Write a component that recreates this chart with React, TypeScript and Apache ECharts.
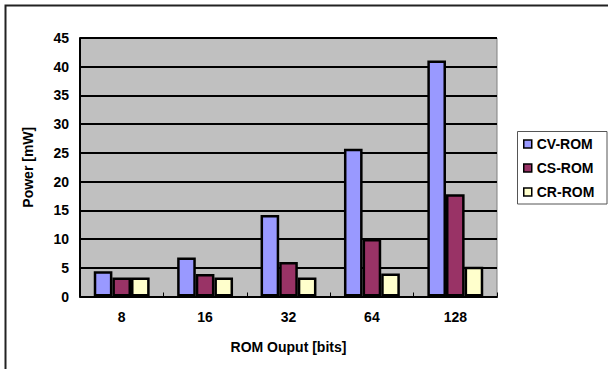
import React, { useEffect, useRef } from "react";
import * as echarts from "echarts";

const categories = ["8", "16", "32", "64", "128"];
const cvRom = [4.4, 6.8, 14.2, 25.7, 41.1];
const csRom = [3.3, 3.9, 6.0, 10.0, 17.8];
const crRom = [3.3, 3.3, 3.3, 4.0, 5.2];
const seriesNames = ["CV-ROM", "CS-ROM", "CR-ROM"];
const seriesColors = ["#9999ff", "#993366", "#ffffcc"];

const FONT = "'Liberation Sans', Arial, sans-serif";

export default function App() {
  const ref = useRef<HTMLDivElement>(null);
  useEffect(() => {
    if (!ref.current) return;
    const chart = echarts.init(ref.current, null, { renderer: "svg" });
    const data = [cvRom, csRom, crRom];
    chart.setOption({
      animation: false,
      backgroundColor: "#ffffff",
      textStyle: { fontFamily: FONT },
      grid: {
        left: 80,
        right: 111,
        top: 38,
        bottom: 72.5,
        show: true,
        backgroundColor: "#c0c0c0",
        borderColor: "#808080",
        borderWidth: 1,
        outerBoundsMode: "none",
      },
      xAxis: {
        type: "category",
        data: categories,
        name: "ROM Ouput [bits]",
        nameLocation: "middle",
        nameGap: 43,
        nameTextStyle: { fontSize: 14, fontWeight: "bold", color: "#000", fontFamily: FONT },
        axisLine: { show: true, lineStyle: { color: "#000", width: 2 } },
        axisTick: { show: true, inside: true, length: 4, lineStyle: { color: "#000", width: 1 } },
        axisLabel: { color: "#000", fontSize: 14, fontWeight: "bold", margin: 13, fontFamily: FONT },
        splitLine: { show: false },
      },
      yAxis: {
        type: "value",
        min: 0,
        max: 45,
        interval: 5,
        name: "Power [mW]",
        nameLocation: "middle",
        nameGap: 45,
        nameRotate: 90,
        nameTextStyle: { fontSize: 14, fontWeight: "bold", color: "#000", fontFamily: FONT },
        axisLine: { show: true, lineStyle: { color: "#000", width: 2 } },
        axisTick: { show: false },
        axisLabel: { color: "#000", fontSize: 14, fontWeight: "bold", margin: 11, fontFamily: FONT },
        splitLine: { show: true, lineStyle: { color: "#000", width: 2 } },
      },
      legend: {
        orient: "vertical",
        left: 518,
        top: 131,
        padding: [6, 5, 5, 5],
        itemWidth: 8,
        itemHeight: 8,
        itemGap: 10,
        icon: "rect",
        data: seriesNames,
        textStyle: { fontSize: 14, fontWeight: "bold", color: "#000", fontFamily: FONT, padding: [0, 0, 0, 0] },
        itemStyle: { borderColor: "#000", borderWidth: 1.5 },
      },
      graphic: [
        {
          type: "rect",
          shape: { x: 5.5, y: 5.5, width: 640, height: 400 },
          style: { fill: "none", stroke: "#222", lineWidth: 2 },
          silent: true,
        },
        {
          type: "rect",
          shape: { x: 517.5, y: 131.5, width: 89.5, height: 72.5 },
          style: { fill: "#fff", stroke: "#555", lineWidth: 1 },
          silent: true,
          z: -1,
        },
      ],
      series: seriesNames.map((n, i) => ({
        name: n,
        type: "bar",
        data: data[i],
        barGap: "0%",
        barCategoryGap: "33%",
        itemStyle: { color: seriesColors[i], borderColor: "#000", borderWidth: 2.5 },
      })),
    });
    return () => chart.dispose();
  }, []);
  return (
    <div
      ref={ref}
      style={{ position: "absolute", left: 0, top: 0, width: 608, height: 369 }}
    />
  );
}
